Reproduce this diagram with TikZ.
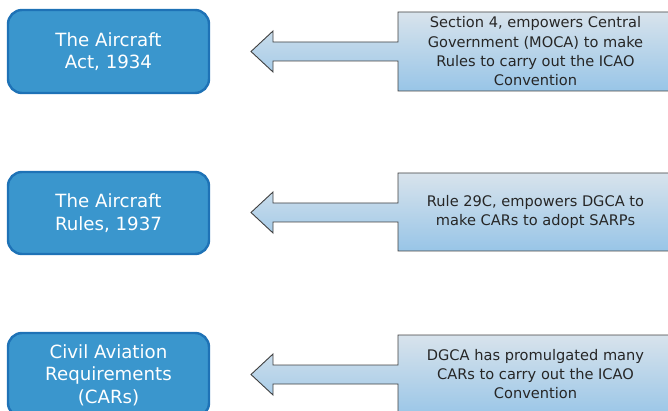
\documentclass[tikz,border=0pt]{standalone}
\usepackage{fontspec}
\setmainfont{DejaVu Sans}
\begin{document}
\begin{tikzpicture}[x=1pt,y=-1pt,
  bluebox/.style={draw=boxedge,fill=boxfill,line width=2.4pt,rounded corners=14pt,
    text=white,font=\fontsize{18.2}{22.5}\selectfont,align=center,inner sep=0pt},
  callout/.style={draw=calledge,line width=0.9pt,top color=calltop,bottom color=callbot,line join=miter},
  calltext/.style={text=calltext,font=\fontsize{14.6}{19.3}\selectfont,align=center,inner sep=0pt}]
\definecolor{boxfill}{HTML}{3A96CD}
\definecolor{boxedge}{HTML}{1E72B6}
\definecolor{calltop}{HTML}{D8E3EC}
\definecolor{callbot}{HTML}{98C5E7}
\definecolor{calledge}{HTML}{404040}
\definecolor{calltext}{HTML}{262626}
\useasboundingbox (0,0) rectangle (668,411);
\clip (0,0) rectangle (668,411);
% callouts
\path[callout] (398,12) -- (685,12) -- (685,91) -- (398,91) -- (398,61) -- (273,61) -- (273,72) -- (251,51.5) -- (273,31) -- (273,42) -- (398,42) -- cycle;
\path[callout] (398,173) -- (685,173) -- (685,251) -- (398,251) -- (398,222) -- (273,222) -- (273,233) -- (251,212.5) -- (273,192) -- (273,203) -- (398,203) -- cycle;
\path[callout] (398,335) -- (685,335) -- (685,418) -- (398,418) -- (398,384) -- (273,384) -- (273,395) -- (251,374.5) -- (273,354) -- (273,365) -- (398,365) -- cycle;
% blue boxes
\node[bluebox,minimum width=201pt,minimum height=83pt] (b1) at (108.5,51.5) {The Aircraft\\Act, 1934};
\node[bluebox,minimum width=201pt,minimum height=82pt] (b2) at (108.5,213) {The Aircraft\\Rules, 1937};
\node[bluebox,minimum width=201pt,minimum height=84pt] (b3) at (108.5,375) {Civil Aviation\\Requirements\\(CARs)};
% callout texts
\node[calltext] (t1) at (535.5,51.5) {Section 4, empowers Central\\Government (MOCA) to make\\Rules to carry out the ICAO\\Convention};
\node[calltext] (t2) at (535.5,212) {Rule 29C, empowers DGCA to\\make CARs to adopt SARPs};
\node[calltext] (t3) at (535.5,374) {DGCA has promulgated many\\CARs to carry out the ICAO\\Convention};
\end{tikzpicture}
\end{document}
